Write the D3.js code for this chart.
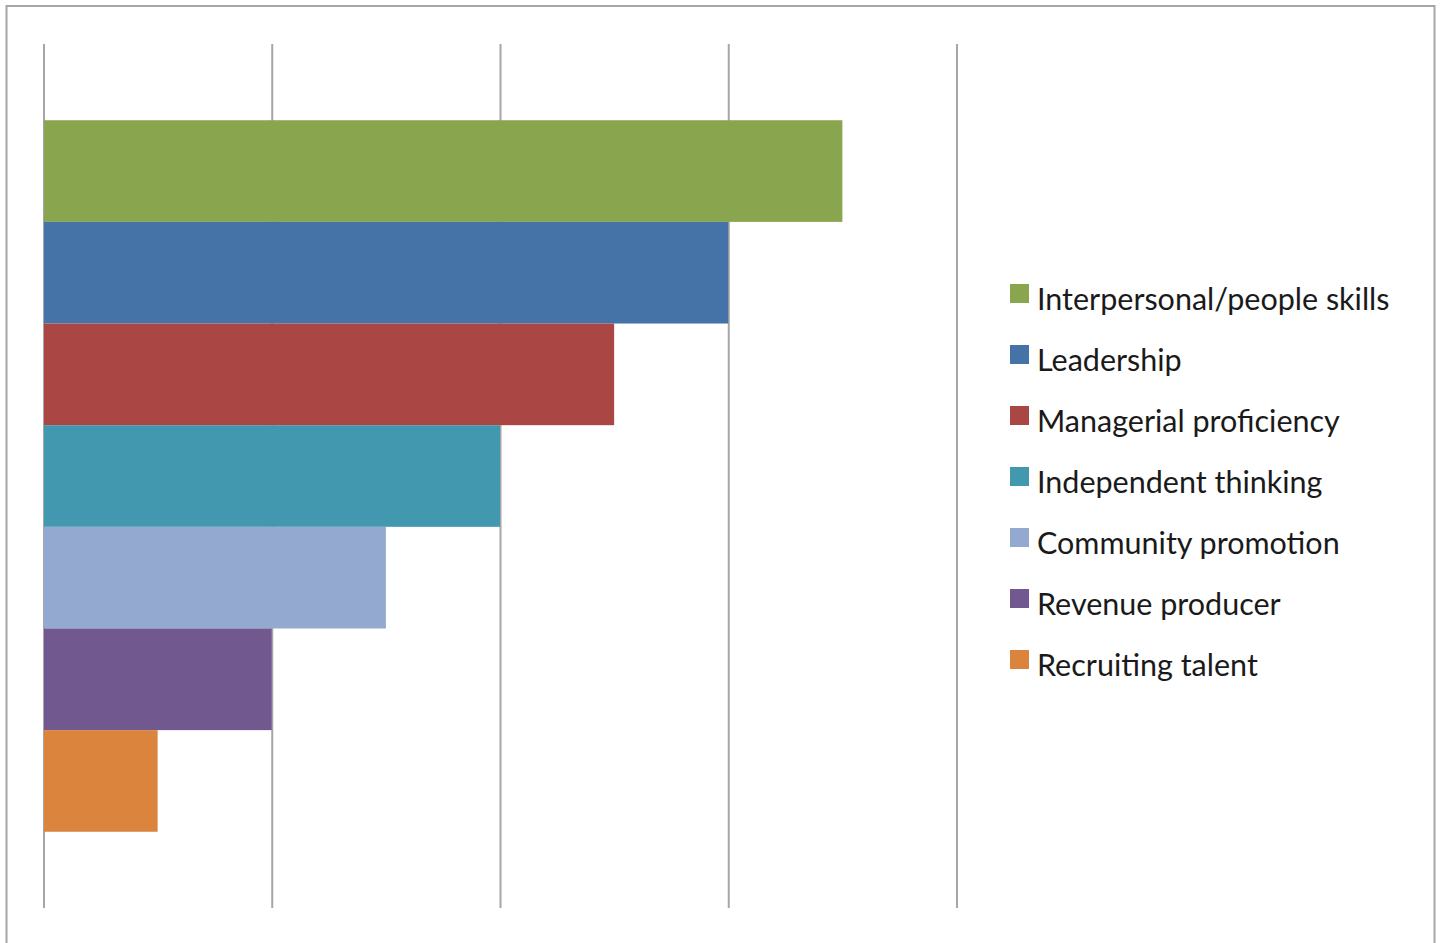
<!DOCTYPE html>
<html>
<head>
<meta charset="utf-8">
<script src="https://cdn.jsdelivr.net/npm/d3@7"></script>
<style>
  html, body { margin: 0; padding: 0; background: #fff; }
  svg { display: block; }
  .legend text { font-family: Lato, "Open Sans", sans-serif; fill: #1a1a1a; }
</style>
</head>
<body>
<svg id="chart" width="1440" height="943"></svg>
<script>
// Qualities, in ranked order (top bar first)
const categories = [
  "Interpersonal/people skills",
  "Leadership",
  "Managerial proficiency",
  "Independent thinking",
  "Community promotion",
  "Revenue producer",
  "Recruiting talent"
];
const values = [7, 6, 5, 4, 3, 2, 1];
const colors = ["#89A54E", "#4572A7", "#AA4643", "#4198AF", "#93A9CF", "#71588F", "#DB843D"];
const xTicks = [0, 2, 4, 6, 8];

const svg = d3.select("#chart");

// Outer chart frame (bottom edge runs off the page)
svg.append("rect")
  .attr("x", 6.5).attr("y", 6)
  .attr("width", 1428).attr("height", 960)
  .attr("fill", "#fff")
  .attr("stroke", "#a6a6a6")
  .attr("stroke-width", 2);

const plot = { left: 43.5, right: 956.5, top: 44, bottom: 908 };

const x = d3.scaleLinear().domain([0, 8]).range([plot.left, plot.right]);
const y = d3.scaleBand()
  .domain(categories)
  .range([plot.top, plot.bottom])
  .paddingInner(0)
  .paddingOuter(0.75);

// Vertical gridlines, no tick labels
const grid = svg.append("g")
  .attr("transform", `translate(0,${plot.bottom})`)
  .call(d3.axisBottom(x).tickValues(xTicks).tickSize(-(plot.bottom - plot.top)).tickFormat(""));
grid.select(".domain").remove();
grid.selectAll(".tick line").attr("stroke", "#a6a6a6").attr("stroke-width", 2);

// Bars
svg.append("g")
  .selectAll("rect")
  .data(categories)
  .join("rect")
  .attr("x", x(0) + 0.5)
  .attr("y", d => y(d))
  .attr("width", (d, i) => x(values[i]) - x(0) - 0.5)
  .attr("height", y.bandwidth())
  .attr("fill", (d, i) => colors[i]);

// Legend
const legend = svg.append("g").attr("class", "legend");
const row = legend.selectAll("g")
  .data(categories)
  .join("g")
  .attr("transform", (d, i) => `translate(1010,${284 + i * 61})`);
row.append("rect")
  .attr("width", 19).attr("height", 19)
  .attr("fill", (d, i) => colors[i]);
row.append("text")
  .attr("x", 27).attr("y", 25.5)
  .attr("font-size", 30.5)
  .text(d => d);
</script>
</body>
</html>
